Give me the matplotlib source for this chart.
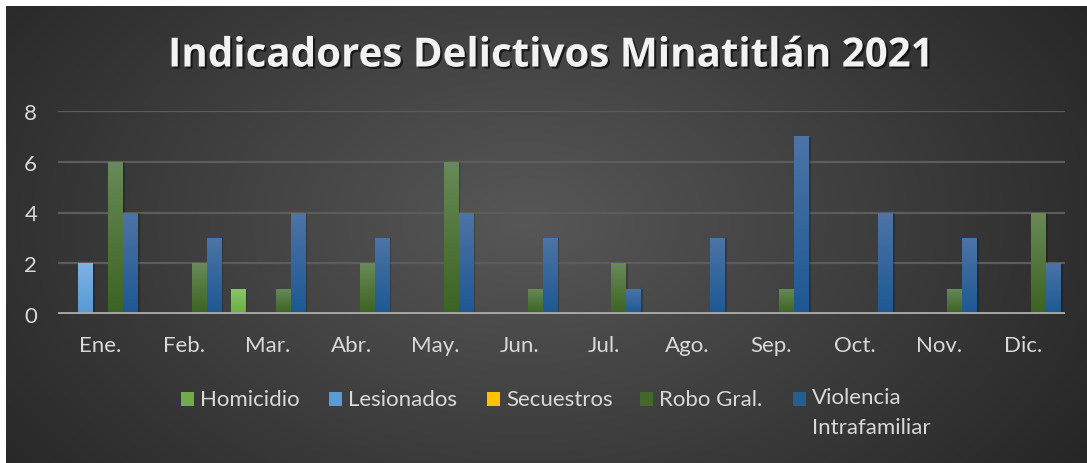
import numpy as np
import matplotlib
matplotlib.use("Agg")
import matplotlib.pyplot as plt
from matplotlib.colors import LinearSegmentedColormap, to_rgb
from matplotlib.patches import Rectangle
import matplotlib.patheffects as pe

months = ["Ene.", "Feb.", "Mar.", "Abr.", "May.", "Jun.", "Jul.", "Ago.", "Sep.", "Oct.", "Nov.", "Dic."]
series_names = ["Homicidio", "Lesionados", "Secuestros", "Robo Gral.", "Violencia\nIntrafamiliar"]
homicidio = [0, 0, 1, 0, 0, 0, 0, 0, 0, 0, 0, 0]
lesionados = [2, 0, 0, 0, 0, 0, 0, 0, 0, 0, 0, 0]
secuestros = [0, 0, 0, 0, 0, 0, 0, 0, 0, 0, 0, 0]
robo_gral = [6, 2, 1, 2, 6, 1, 2, 0, 1, 0, 1, 4]
violencia = [4, 3, 4, 3, 4, 3, 1, 3, 7, 4, 3, 2]
yticks = [0, 2, 4, 6, 8]

all_series = [homicidio, lesionados, secuestros, robo_gral, violencia]
base_colors = ["#70AD47", "#5B9BD5", "#FFC000", "#43682B", "#255E91"]
top_colors = ["#8CC46A", "#80B3E2", "#FFD24D", "#688A58", "#4D74A6"]
bot_colors = ["#6BAF3E", "#5599D6", "#FFBE00", "#3B6322", "#1D5893"]

W, H = 1087, 464
fig = plt.figure(figsize=(W / 100, H / 100), dpi=100)
fig.patch.set_facecolor("white")

# background panel with radial gradient
bg = fig.add_axes([6 / W, 0, (W - 6) / W, (H - 7) / H])
bg.set_axis_off()
ny, nx = 300, 700
yy, xx = np.mgrid[0:ny, 0:nx]
cx, cy = nx * 0.48, ny * 0.47
r = np.sqrt(((xx - cx) / (nx * 0.62)) ** 2 + ((yy - cy) / (ny * 0.95)) ** 2)
r = np.clip(r, 0, 1)
c0 = np.array(to_rgb("#575757"))
c1 = np.array(to_rgb("#262626"))
img = c0[None, None, :] * (1 - r[..., None]) + c1[None, None, :] * r[..., None]
bg.imshow(img, aspect="auto", extent=[0, 1, 0, 1], interpolation="bilinear")
bg.set_xlim(0, 1)
bg.set_ylim(0, 1)

# main axes
left, right = 58 / W, 1065 / W
bottom, top = (H - 315) / H, (H - 112) / H
ax = fig.add_axes([left, bottom, right - left, top - bottom])
ax.patch.set_alpha(0)
for s in ax.spines.values():
    s.set_visible(False)

n = len(months)
x = np.arange(n)
slot = 0.179
bw = 0.168
for i, vals in enumerate(all_series):
    offs = (i - 2) * slot
    cmap = LinearSegmentedColormap.from_list("g%d" % i, [bot_colors[i], top_colors[i]])
    grad = np.linspace(0, 1, 100).reshape(-1, 1)
    for xi, v in zip(x, vals):
        if v <= 0:
            continue
        x0 = xi + offs - bw / 2
        sh = Rectangle((x0 + 0.03, 0), bw, v - 0.02, facecolor="black", alpha=0.22,
                       linewidth=0, zorder=2)
        ax.add_patch(sh)
        rect = Rectangle((x0, 0), bw, v, facecolor=base_colors[i], linewidth=0, zorder=3)
        ax.add_patch(rect)
        im = ax.imshow(grad, cmap=cmap, extent=[x0, x0 + bw, 0, v], origin="lower",
                       aspect="auto", zorder=3.5, interpolation="bilinear")
        im.set_clip_path(rect)

ax.set_xlim(-0.5, n - 0.5)
ax.set_ylim(0, 8)
ax.set_yticks(yticks)
ax.set_xticks(x)
ax.set_xticklabels(months)
ax.yaxis.grid(True, color="#5c5c5c", linewidth=1.6, zorder=0)
ax.set_axisbelow(True)
ax.axhline(0, color="#A6A6A6", linewidth=2.8, zorder=5)
ax.tick_params(axis="both", length=0, labelcolor="#D9D9D9", labelsize=16)
ax.tick_params(axis="y", pad=15)
ax.tick_params(axis="x", pad=15)
for lab in ax.get_xticklabels() + ax.get_yticklabels():
    lab.set_fontfamily("Lato")

# title
fig.text(550 / W, 1 - 57 / H, "Indicadores Delictivos Minatitlán 2021", ha="center", va="center",
         color="#F2F2F2", fontsize=29, fontweight="bold", family="Open Sans",
         path_effects=[pe.SimplePatchShadow(offset=(1.5, -1.5), alpha=0.6, shadow_rgbFace="black"),
                       pe.Normal()])

# legend (manual)
leg_marker_x = [181, 329, 487, 640, 793]
leg_y = 400
for i, name in enumerate(series_names):
    mx = leg_marker_x[i]
    fig.patches.append(Rectangle((mx / W, 1 - (leg_y + 7) / H), 13 / W, 14 / H,
                                 facecolor=base_colors[i], edgecolor="none",
                                 transform=fig.transFigure, figure=fig))
    if "\n" in name:
        fig.text((mx + 19) / W, 1 - (leg_y - 12) / H, name, ha="left", va="top",
                 color="#D9D9D9", fontsize=16, family="Lato", linespacing=1.65)
    else:
        fig.text((mx + 19) / W, 1 - leg_y / H, name, ha="left", va="center",
                 color="#D9D9D9", fontsize=16, family="Lato")

fig.savefig("out.png", dpi=100, facecolor=fig.get_facecolor())
